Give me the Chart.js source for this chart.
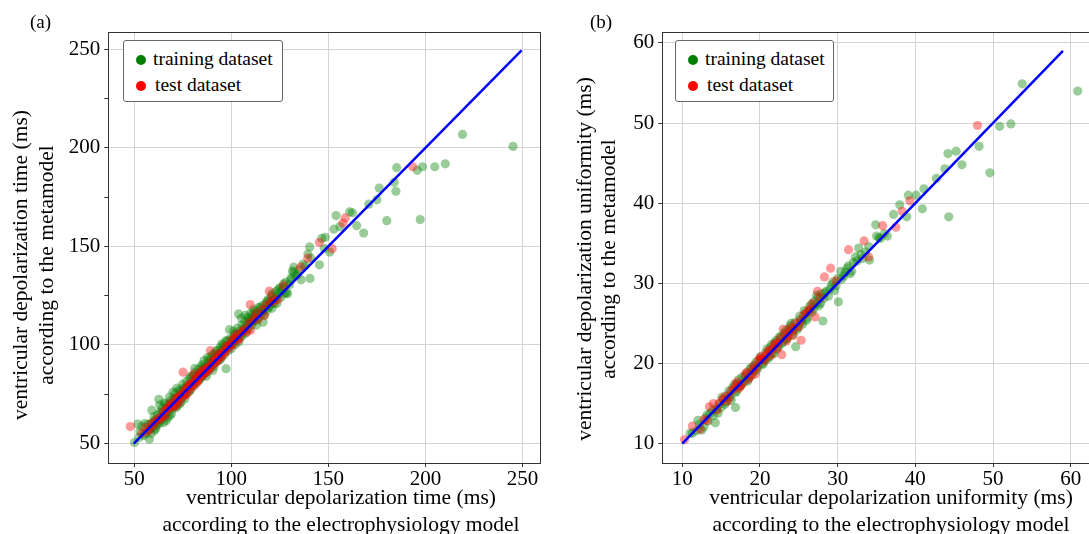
<!DOCTYPE html>
<html>
<head>
<meta charset="utf-8">
<script src="https://cdn.jsdelivr.net/npm/chart.js@4.4.1/dist/chart.umd.min.js"></script>
<style>
  html, body { margin: 0; padding: 0; background: #fff; }
  body { width: 1089px; height: 534px; overflow: hidden; position: relative; font-family: 'Liberation Serif', 'DejaVu Serif', serif; }
  .panel { position: absolute; top: 0; }
  .tag { position: absolute; top: 11px; font-size: 19px; color: #000; }
  .legend { position: absolute; top: 40px; height: 62px; border: 1px solid #666; border-radius: 3px; background: #fff; font-size: 19.5px; box-sizing: border-box; }
  .legend .row { position: absolute; left: 0; height: 20px; line-height: 20px; white-space: nowrap; }
  .legend .dot { position: absolute; top: 5px; width: 10px; height: 10px; border-radius: 50%; }
  .legend .lbl { position: absolute; top: -1px; }
</style>
</head>
<body>
<div class="panel" style="left:0"><canvas id="chartA" width="545" height="560"></canvas></div>
<div class="panel" style="left:545px"><canvas id="chartB" width="560" height="560"></canvas></div>

<div class="tag" style="left:30px">(a)</div>
<div class="tag" style="left:590px">(b)</div>

<div class="legend" style="left:123px;width:160px">
  <div class="row" style="top:9px"><span class="dot" style="left:12px;background:#008000"></span><span class="lbl" style="left:29px">training dataset</span></div>
  <div class="row" style="top:35px"><span class="dot" style="left:12px;background:#ff0000"></span><span class="lbl" style="left:31px">test dataset</span></div>
</div>
<div class="legend" style="left:675px;width:159px">
  <div class="row" style="top:9px"><span class="dot" style="left:12px;background:#008000"></span><span class="lbl" style="left:29px">training dataset</span></div>
  <div class="row" style="top:35px"><span class="dot" style="left:12px;background:#ff0000"></span><span class="lbl" style="left:31px">test dataset</span></div>
</div>

<script>
// panel (a): depolarization time, [electrophysiology, metamodel]
const trainA = [
  [50.2,50.4],[51.9,59.8],[53,56],[54,58.5],[55,54],[56,55],[57.8,52.1],[58,57],[58.5,60],[59.1,66.8],
  [59.5,58],[60,61],[60.5,56.5],[61,62],[61.5,59],[62,64.5],[62.7,72.3],[63,60],[63.5,66],[64,62],
  [64.5,68],[65,63.5],[65.5,70.5],[66,65],[66.5,61.5],[67,68],[67.5,66],[68,70],[68.5,64],[69,72],
  [69.5,67.5],[70,76],[70.5,69],[71,73],[71.5,68],[72,78],[72.5,71],[73,74],[73.5,70],[74,76.5],
  [74.5,73],[75,80],[75.5,75],[76,72.5],[76.5,78],[77,81.5],[77.5,76],[78,79],[78.5,83],[79,77],
  [79.5,81],[80,84],[80.5,79],[81,82.5],[81.5,86],[82,80.5],[82.5,84],[83,87.5],[83.5,82],[84,86],
  [84.5,89],[85,84],[85.5,88],[86,92],[86.5,85.5],[87,89],[87.8,93.5],[88,86.5],[88.5,91],[89,88],
  [89.5,94],[90,90],[90.5,87],[91,93],[91.5,95.5],[92,91],[92.5,94],[93,97],[93.5,92],[94,96],
  [94.5,99],[95,93.5],[95.5,97.5],[96,100],[96.5,95],[97.3,87.9],[97,98],[98,102],[98.5,97],[99.1,107.7],
  [99.5,100],[100,98],[100.5,103],[101,101],[101.5,105],[102,100],[102.5,106],[103,103.5],[103.8,115.7],[104,101.5],
  [104.5,107],[105,104],[105.5,110],[106,105],[106.5,108.5],[107,112],[107.5,106],[108,110],[108.5,114],[109,108],
  [109.5,112],[110,116],[110.5,110],[111,113.5],[111.5,118],[112,112],[112.5,115],[113,110],[113.5,117],[114,114],
  [115,119],[116,116],[116.4,111.5],[117,118],[118,121],[118.5,117.5],[119,123],[120,120],[120.5,125],[121,118.5],
  [122,123],[123,127],[123.5,121],[124,125],[125,129],[125.5,124],[126,127.5],[127,131],[128,131.7],[128.5,126.5],
  [129,125.9],[130,130.5],[131,134],[132.2,136.8],[132.2,139.4],[133,135],[135,138],[136,133],[137,141],[139.5,146],
  [140.4,149.7],[140.6,133.7],[141,144],[145.4,140.6],[146.6,154],[147.9,149],[148.4,154.6],[150.7,147.1],[152.9,158.7],[154,165.6],
  [156,160],[161,167.5],[162.4,167],[164.6,160.5],[168.2,156.7],[170.8,171.4],[175,173.6],[176.2,179.6],[180.1,163],[183.9,182.5],
  [184.8,177.9],[185.2,189.9],[195.8,188.6],[197.3,163.6],[198.5,190.4],[204.8,190.4],[210.2,191.9],[219.1,206.8],[245.1,200.7],
  [52.5,53],[55.5,60],[57,59.5],[58.8,55],[60.2,63.5],[61.2,57.5],[62.4,60.5],[63.2,69.5],[64.2,65.5],[65.2,60.5],
  [66.2,70],[67.2,63],[68.2,73.5],[69.2,65],[70.2,72],[71.2,75.5],[72.2,69],[73.2,77],[74.2,71],[75.2,78],
  [76.2,75],[77.2,79],[78.2,76],[79.2,84],[80.2,80],[81.2,88],[82.2,83],[83.2,85],[84.2,83],[85.2,90],
  [86.2,88],[87.2,84],[88.2,92],[89.2,90],[90.2,95],[91.2,89],[92.2,97],[93.2,94.5],[94.2,92.5],[95.2,100.5],
  [96.2,98],[97.2,102],[98.2,99],[99.2,103],[100.2,100.5],[101.2,107],[102.2,103],[103.2,108.5],[104.2,105],[105.2,113.5],
  [106.2,107],[107.2,115],[108.2,109],[109.2,113],[110.2,112],[111.2,115.5],[112.2,117],[113.2,113],[114.2,119],[115.2,116],
  [116.2,120],[117.2,115],[118.2,122],[119.2,119],[120.2,122],[121.2,126],[122.2,121],[123.2,124],[124.2,128],[126.2,129],
  [127.5,126],[130.5,133],[131.5,137.5],[134,135.5],[138,140]
];
const testA = [
  [48,58.5],[54,55],[56,58],[58,57],[60,59],[62,62.5],[64,63],[65,66],[66,64],[67,68],
  [68,67.5],[69,69],[70,70.5],[71,69],[72,72.5],[73,71.5],[74,75],[75.2,86.1],[75,73.5],[76,77],
  [77,75],[78,79.5],[79,77.5],[80,81],[80.5,85],[81,79.5],[82,83],[83,82],[84,85.5],[85,84],
  [86,87.5],[87,86],[88,89],[89,88],[89.2,97],[90,91.5],[91,90],[92,93],[93,92],[94,95],
  [95,94],[96,97],[97,96.5],[98,99],[99,98.5],[100,102],[101,100],[102,104],[103,105.5],[104,103],
  [105,106],[107,108],[109,111],[109.8,120.4],[110,107.5],[112,114],[114,113],[116,118],[118,120],[119.6,127.3],
  [120,121.5],[121,124],[124,123],[127,130],[135.7,139.5],[139.4,144],[145.4,152],[152,148.8],[157.5,161.8],[158.7,164.4],
  [193.5,190.4],
  [57,56],[59,60],[61,61],[63,62],[65,64],[66.5,67],[68.5,70],[70.5,68.5],[71.5,73],[72.5,70.5],
  [73.5,74],[75.5,76],[76.5,74.5],[77.5,78],[78.5,80],[79.5,79],[81.5,82],[82.5,81],[83.5,84],[84.5,86.5],
  [85.5,85],[86.5,86],[87.5,88],[88.5,87.5],[90.5,90],[91.5,93],[92.5,91.5],[93.5,95.5],[94.5,94],[96.5,96],
  [97.5,99.5],[99.5,100],[101.5,103],[103.5,102.5],[106,107],[108,106.5],[111,112],[113,116],[117,115],[122,122]
];
const diagA = [49.8, 249.5];
const majorAX = [50, 100, 150, 200, 250];
const majorAY = [50, 100, 150, 200, 250];
const minorAY = [75, 125, 175, 225];

// panel (b): depolarization uniformity
const trainB = [
  [11,11.3],[11.3,11.3],[11.8,11.6],[12.2,12.4],[12.8,12.1],[13,13.2],[13.3,12.8],[13.6,13.8],[14,13.5],[14.25,12.6],
  [14.4,14.3],[14.7,14.9],[15,14.5],[15.3,15.6],[15.6,15.2],[15.9,16.1],[16.2,15.8],[16.5,17],[16.85,14.5],[16.8,16.4],
  [17.1,17.5],[17.4,17.1],[17.7,18.3],[18,17.7],[18.3,18.8],[18.6,18.2],[18.9,19.5],[19.2,19],[19.5,20.2],[19.8,19.6],
  [20.1,20.5],[20.4,19.9],[20.7,21.3],[21,20.6],[21.3,22],[21.6,21.3],[21.9,22.6],[22.2,21.8],[22.5,23.3],[22.8,22.5],
  [23.1,23.8],[23.4,23],[23.7,24.3],[24,25],[24.3,23.6],[24.6,22.1],[24.9,24.5],[25.2,25.5],[25.5,24.9],[25.8,26.2],
  [26.1,25.7],[26.4,27.1],[26.7,26.4],[27,27.8],[27.3,28.5],[27.6,27.2],[27.9,28.7],[28.1,25.3],[28.2,28.1],[28.5,29],
  [28.8,28.4],[29.2,29.8],[29.6,29.1],[30,30.6],[30.1,27.7],[30.4,31.5],[30.8,30.9],[31.2,31.9],[31.6,31.2],[32,32.6],
  [32.3,33.3],[32.7,34.4],[33.2,33.1],[34,34.6],[34.1,32.9],[34.9,37.3],[35,35.9],[35.5,35.6],[36.4,35.9],[37.2,38.6],
  [38,39.8],[38.9,38.3],[39.1,41],[40.1,41],[40.9,39.3],[41.1,41.8],[42.7,43.1],[43.8,44.3],[44.2,46.2],[44.3,38.3],
  [45.26,46.5],[46,44.8],[48.2,47.1],[49.6,43.8],[50.85,49.6],[52.3,49.9],[53.76,54.9],[60.9,54],
  [12,12.9],[12.5,11.7],[13.2,13.6],[13.9,14.2],[14.6,13.8],[15.1,15.8],[15.5,14.9],[16,16.6],[16.3,15.4],[16.7,17.4],
  [17,16.5],[17.3,18],[17.6,17.3],[18.1,18.4],[18.4,17.8],[18.7,19.3],[19,18.6],[19.3,19.8],[19.6,19.2],[20,20.8],
  [20.3,20],[20.6,20.5],[20.9,21.8],[21.2,20.8],[21.5,22.4],[21.8,21.2],[22.1,22.9],[22.4,22.1],[22.7,23.4],[23,22.7],
  [23.3,24.1],[23.6,23.2],[23.9,24.7],[24.2,24],[24.5,25.1],[24.8,24.2],[25.1,25.9],[25.4,25.2],[25.7,26.6],[26,25.4],
  [26.3,26.5],[26.6,27.4],[26.9,26.8],[27.2,27.4],[27.5,28.3],[27.8,27.5],[28.4,28.8],[29,29.3],[29.4,30.2],[29.8,29.7],
  [30.5,30.5],[31,31.4],[31.4,32.2],[31.8,31.5],[32.5,32.8],[33,33.6],[33.6,33.9],[35.3,35.7],[36,36.2]
];
const testB = [
  [10.3,10.5],[11.3,12.2],[12.3,11.8],[13.5,14.6],[14,15],[14.5,14.2],[15.2,15.5],[15.8,15.3],[16.3,16.6],[16.9,17.3],
  [17.3,16.9],[17.7,17.5],[18.1,18.6],[18.5,18],[19,19.2],[19.4,18.7],[19.8,20.4],[20.2,20.9],[20.6,20.3],[21,21.5],
  [21.4,21],[21.8,22.3],[22.2,21.9],[22.6,23.1],[22.8,21.1],[23,24.3],[23.4,22.8],[23.8,24],[24.2,23.5],[24.6,25],
  [25,24.6],[25.3,22.9],[25.6,26],[26.2,26.6],[26.8,27.5],[27.1,25.8],[27.4,29],[28.3,30.8],[29.1,31.9],[29.8,30.3],
  [31.4,34.2],[33.4,35.3],[34,33.3],[35.8,37.2],[37.5,37],[38.3,39],[39.3,40.3],[48,49.7],
  [12.8,13],[13.2,12.9],[14.8,15.1],[15.5,15.9],[16,15.8],[16.6,16.8],[17,17.7],[17.5,17.2],[18.3,18.9],[18.8,18.4],
  [19.2,19.7],[19.6,19.5],[20,20.6],[20.4,20.6],[20.8,21],[21.2,21.6],[21.6,21.8],[22,22.5],[22.4,22.6],[23.2,23.6],
  [23.6,23.4],[24,24.5],[24.4,24.3],[25.2,25.3],[26,26.3],[26.5,26.8],[27.8,28.2]
];
const diagB = [10, 59];
const majorBX = [10, 20, 30, 40, 50, 60];
const majorBY = [10, 20, 30, 40, 50, 60];

const serif = "'Liberation Serif', 'DejaVu Serif', serif";
const gridCol = '#d4d4d4';
const spineCol = '#333';

const toXY = arr => arr.map(p => ({ x: p[0], y: p[1] }));

// frame on all four sides + two-line axis titles
const extras = {
  id: 'extras',
  afterDatasetsDraw(chart) {
    const { ctx, chartArea: a } = chart;
    ctx.save();
    ctx.strokeStyle = spineCol;
    ctx.lineWidth = 1;
    const l = Math.round(a.left) + 0.5, t = Math.round(a.top) + 0.5;
    ctx.strokeRect(l, t, Math.round(a.right) - Math.round(a.left), Math.round(a.bottom) - Math.round(a.top));
    ctx.restore();
  },
  afterDraw(chart, args, o) {
    const ctx = chart.ctx;
    ctx.save();
    ctx.fillStyle = '#000';
    ctx.font = '21.5px ' + serif;
    ctx.textAlign = 'center';
    ctx.textBaseline = 'middle';
    o.xTitle.forEach((s, i) => ctx.fillText(s, o.xCenter, o.xLines[i]));
    o.yTitle.forEach((s, i) => {
      ctx.save();
      ctx.translate(o.yLines[i], o.yCenter);
      ctx.rotate(-Math.PI / 2);
      ctx.fillText(s, 0, 0);
      ctx.restore();
    });
    ctx.restore();
  }
};

function axis(min, max, major, minor, fitSize, horizontal) {
  const all = major.concat(minor || []).sort((a, b) => a - b);
  return {
    type: 'linear',
    position: horizontal ? 'bottom' : 'left',
    min: min,
    max: max,
    afterBuildTicks: s => { s.ticks = all.map(v => ({ value: v })); },
    afterFit: s => { if (horizontal) s.height = fitSize; else s.width = fitSize; },
    grid: {
      color: c => (c.tick && major.includes(c.tick.value)) ? gridCol : 'rgba(0,0,0,0)',
      lineWidth: 1,
      tickLength: 4,
      tickColor: spineCol
    },
    border: { color: spineCol, width: 1 },
    ticks: {
      autoSkip: false,
      maxRotation: 0,
      padding: horizontal ? 0 : 4,
      color: '#000',
      font: { family: serif, size: 21 },
      callback: v => major.includes(v) ? String(v) : ''
    }
  };
}

function scatterSets(train, test, diag) {
  return [
    { type: 'line', data: toXY([[diag[0], diag[0]], [diag[1], diag[1]]]), borderColor: '#0000ff', borderWidth: 2.5,
      pointRadius: 0, order: 0 },
    { type: 'scatter', label: 'test dataset', data: toXY(test), backgroundColor: 'rgba(255,0,0,0.4)',
      borderWidth: 0, pointRadius: 4.6, order: 1 },
    { type: 'scatter', label: 'training dataset', data: toXY(train), backgroundColor: 'rgba(0,128,0,0.4)',
      borderWidth: 0, pointRadius: 4.6, order: 2 }
  ];
}

const common = {
  responsive: false,
  animation: false,
  devicePixelRatio: 1,
  events: []
};

new Chart(document.getElementById('chartA'), {
  type: 'scatter',
  data: { datasets: scatterSets(trainA, testA, diagA) },
  options: Object.assign({}, common, {
    layout: { padding: { top: 32, right: 2.7, left: 0, bottom: 0 } },
    scales: {
      x: axis(36.7, 259.2, majorAX, null, 97, true),
      y: axis(40, 258.8, majorAY, minorAY, 108.3, false)
    },
    plugins: {
      legend: { display: false },
      tooltip: { enabled: false },
      extras: {
        xTitle: ['ventricular depolarization time (ms)', 'according to the electrophysiology model'],
        xCenter: 341, xLines: [498, 525],
        yTitle: ['ventricular depolarization time (ms)', 'according to the metamodel'],
        yCenter: 265, yLines: [21, 47]
      }
    }
  }),
  plugins: [extras]
});

new Chart(document.getElementById('chartB'), {
  type: 'scatter',
  data: { datasets: scatterSets(trainB, testB, diagB) },
  options: Object.assign({}, common, {
    layout: { padding: { top: 32, right: 7.1, left: 0, bottom: 0 } },
    scales: {
      x: axis(7.43, 63.5, majorBX, null, 97, true),
      y: axis(7.58, 61.37, majorBY, null, 117.3, false)
    },
    plugins: {
      legend: { display: false },
      tooltip: { enabled: false },
      extras: {
        xTitle: ['ventricular depolarization uniformity (ms)', 'according to the electrophysiology model'],
        xCenter: 346, xLines: [498, 525],
        yTitle: ['ventricular depolarization uniformity (ms)', 'according to the metamodel'],
        yCenter: 259, yLines: [40, 64]
      }
    }
  }),
  plugins: [extras]
});
</script>
</body>
</html>
